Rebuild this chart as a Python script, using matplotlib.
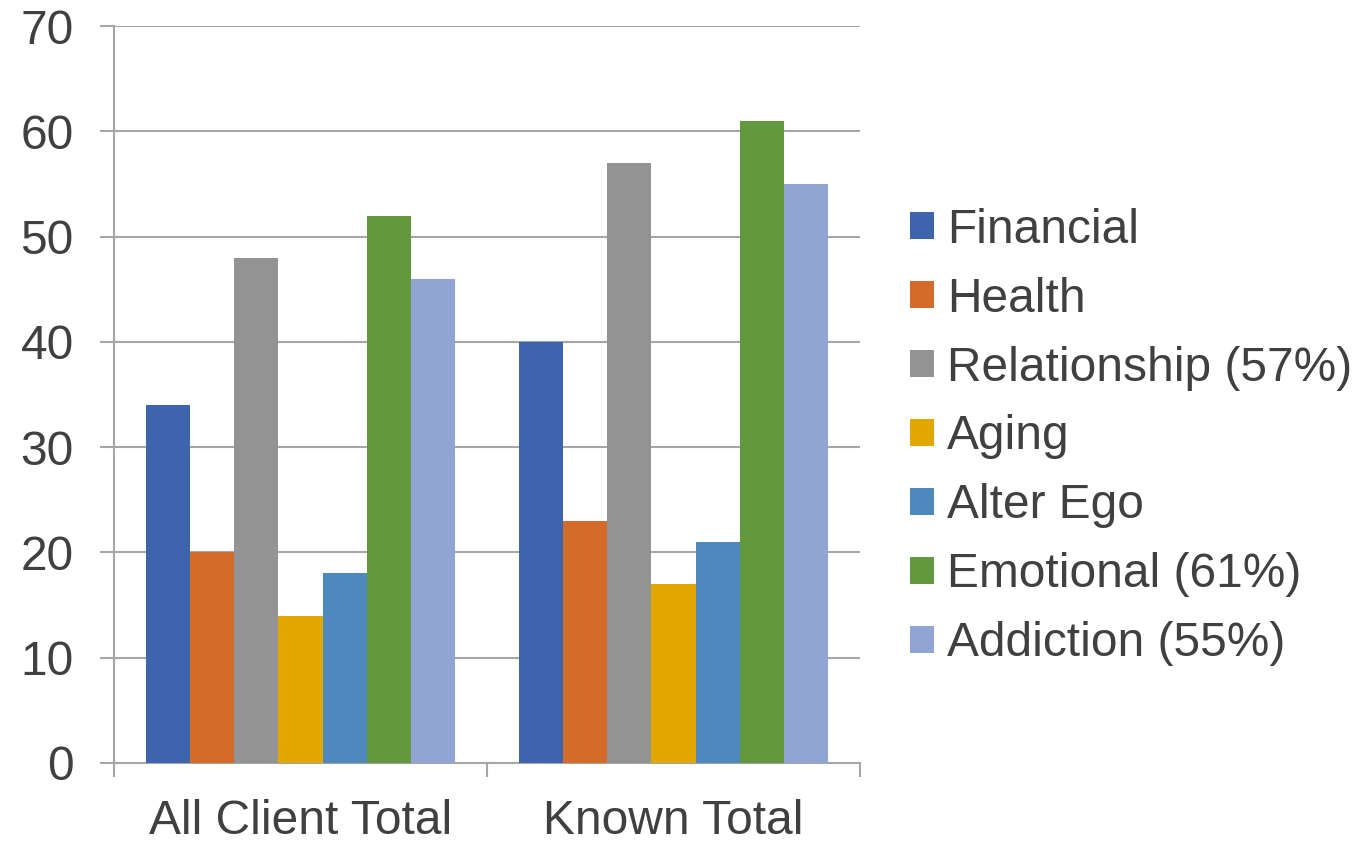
import numpy as np
import matplotlib.pyplot as plt

plt.rcParams['font.family'] = ['Liberation Sans', 'DejaVu Sans']

# --- data ---
groups = ['All Client Total', 'Known Total']
series = ['Financial', 'Health', 'Relationship (57%)', 'Aging',
          'Alter Ego', 'Emotional (61%)', 'Addiction (55%)']
values = [
    [34, 40],   # Financial
    [20, 23],   # Health
    [48, 57],   # Relationship
    [14, 17],   # Aging
    [18, 21],   # Alter Ego
    [52, 61],   # Emotional
    [46, 55],   # Addiction
]
colors = ['#3D64AD', '#D36B2A', '#939393', '#E3A800',
          '#4E89BE', '#62993E', '#91A5D5']

text_color = '#404040'
grid_color = '#A6A6A6'
fs = 34.5

fig = plt.figure(figsize=(13.56, 8.42), dpi=100)
ax = fig.add_axes([114 / 1356, 79 / 842, (860 - 114) / 1356, (763 - 26) / 842])

x = np.arange(len(groups))
w = 0.118
for i, (name, vals, c) in enumerate(zip(series, values, colors)):
    ax.bar(x + (i - 3) * w, vals, width=w, color=c, label=name, zorder=3)

ax.set_xlim(-0.5, 1.5)
ax.set_ylim(0, 70)
ax.set_yticks(range(0, 71, 10))
ax.yaxis.grid(True, color=grid_color, linewidth=1.5, zorder=0)

for s in ['top', 'right']:
    ax.spines[s].set_visible(False)
for s in ['left', 'bottom']:
    ax.spines[s].set_color(grid_color)
    ax.spines[s].set_linewidth(1.5)

ax.tick_params(axis='y', length=10, width=1.5, color=grid_color,
               labelsize=fs, labelcolor=text_color, pad=19)
ax.set_xticks(x)
ax.set_xticklabels(groups)
ax.set_xticks([-0.5, 0.5, 1.5], minor=True)
ax.tick_params(axis='x', which='major', length=0, labelsize=fs,
               labelcolor=text_color, pad=26)
ax.tick_params(axis='x', which='minor', length=10, width=1.5, color=grid_color)

leg = fig.legend(loc='center left', bbox_to_anchor=(910 / 1356, 0.481),
                 frameon=False, fontsize=fs, handlelength=0.5, handleheight=0.5,
                 handletextpad=0.27, labelspacing=0.5, borderpad=0,
                 borderaxespad=0)
for t in leg.get_texts():
    t.set_color(text_color)

fig.savefig('out.png', dpi=100)
